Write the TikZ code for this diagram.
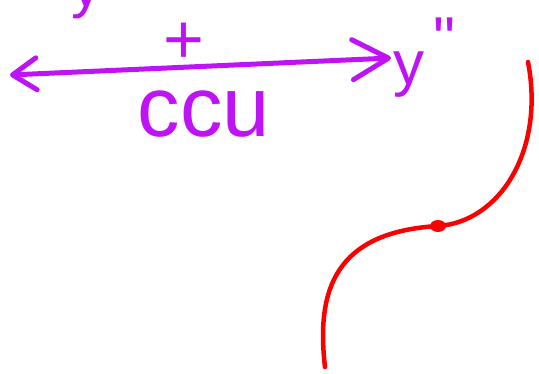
\documentclass[tikz,border=0pt]{standalone}
\usepackage{fontspec}
\setmainfont{Liberation Sans}
\usetikzlibrary{arrows.meta, positioning}
\definecolor{penpurple}{RGB}{190,20,245}
\definecolor{penred}{RGB}{250,0,0}

\begin{document}
\begin{tikzpicture}[x=1pt, y=-1pt]
        \tikzstyle{ink} = [draw=penpurple, line width=5pt, line cap=round, line join=round]
        \tikzstyle{hand} = [text=penpurple, inner sep=0pt]
        \tikzstyle{curve} = [draw=penred, line width=4.5pt, line cap=round]

        \clip (0,0) rectangle (539,374);

        \node [hand, anchor=south, font=\fontsize{60}{60}\selectfont] (ytop) at (86,19) {y};

        \node [hand, anchor=west, inner sep=2pt, font=\fontsize{62}{62}\selectfont] (ypp) at (391,58) {y\hspace{9pt}\raisebox{24pt}{\textquotedbl}};
        \coordinate (lft) at (10,75);

        \draw [ink, arrows={Straight Barb[length=24pt, width=32pt, round]-Straight Barb[length=36pt, width=40pt, round]}] (lft) -- (ypp.west);

        \node [hand, font=\fontsize{70}{70}\selectfont] (plus) at (184,43) {+};
        \node [hand, font=\fontsize{85}{85}\selectfont] (ccu) at (204,114) {ccu};

        % red s-curve
        \draw [curve] (325,367) .. controls (316,290) and (335,232) .. (438,226) .. controls (500,222) and (545,150) .. (528,62);
        \fill [penred] (438,226) ellipse (8pt and 6pt);
    \end{tikzpicture}
\end{document}
